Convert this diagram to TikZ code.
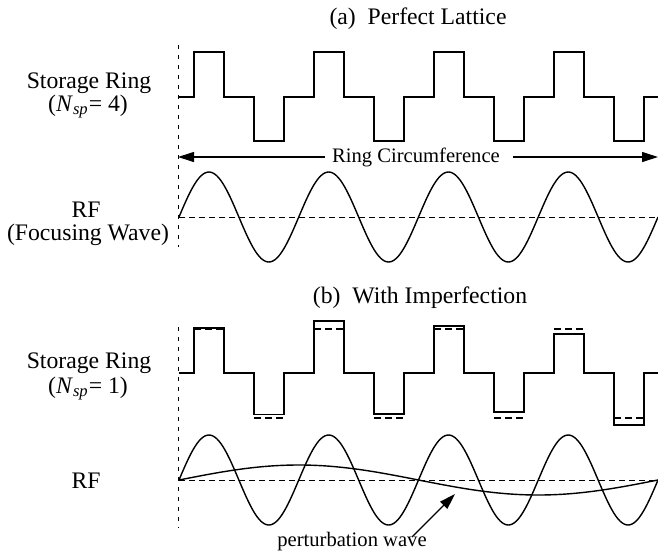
\documentclass[tikz,border=0pt]{standalone}
\usepackage{fontspec}
\setmainfont{Liberation Serif}
\usetikzlibrary{arrows.meta}
\begin{document}
\begin{tikzpicture}[x=0.5pt,y=-0.5pt,
  wave/.style={line width=0.75pt, line join=miter},
  sine/.style={line width=0.7pt},
  refline/.style={line width=0.5pt, dash pattern=on 3pt off 2pt},
  axisline/.style={line width=0.45pt, dash pattern=on 2pt off 3pt},
  nominal/.style={line width=0.75pt, dash pattern=on 3.5pt off 2pt},
  lbl/.style={font=\fontsize{11.85}{14}\selectfont, anchor=base, inner sep=0pt},
  small/.style={font=\fontsize{10.3}{12}\selectfont},
  pointer/.style={line width=0.55pt, -{Triangle[length=8pt,width=5pt]}}]
\useasboundingbox (0,0) rectangle (658,552);

% ---------- labels ----------
\node[lbl] (ta)   at (418,24)  {(a)\hspace{0.5em}Perfect Lattice};
\node[lbl] (sra)  at (89,88)   {Storage Ring};
\node[lbl] (nspa) at (88,111)  {(\textit{N}\textsubscript{\textit{sp}}= 4)};
\node[lbl] (rfa)  at (86,217)  {RF};
\node[lbl] (fwa)  at (88,240)  {(Focusing Wave)};
\node[lbl] (tb)   at (420,303) {(b)\hspace{0.5em}With Imperfection};
\node[lbl] (srb)  at (89,368)  {Storage Ring};
\node[lbl] (nspb) at (88,393)  {(\textit{N}\textsubscript{\textit{sp}}= 1)};
\node[lbl] (rfb)  at (86,488)  {RF};
\node[lbl,small] (pw) at (352,546) {perturbation wave};

% ---------- vertical reference lines ----------
\draw[axisline] (178,45) -- (178,247);
\draw[axisline] (178,327) -- (178,528);

% ---------- (a) storage ring ----------
\draw[wave] (179,97) -| (194,52) -| (224,97) -| (254,141) -| (284,97)
  -| (314,52) -| (344,97) -| (374,141) -| (404,97)
  -| (434,52) -| (464,97) -| (494,141) -| (524,97)
  -| (554,52) -| (584,97) -| (614,141) -| (644,97) -- (658,97);

% ---------- ring circumference arrow ----------
\node[small, inner sep=3.5pt] (rc) at (416,157) {Ring Circumference};
\coordinate (rcL) at (178,157);
\coordinate (rcR) at (658,157);
\draw[pointer] (rc.west) -- (rcL);
\draw[pointer] ([xshift=3pt]rc.east) -- (rcR);

% ---------- (a) RF ----------
\draw[refline] (179,217) -- (658,217);
\draw[sine] plot[domain=179:658,samples=241,smooth] (\x,{217-45*sin((\x-179)/119.75*360)});

% ---------- (b) storage ring ----------
\draw[wave] (179,373) -| (194,328) -| (224,373) -| (254,414.5) -| (284,373)
  -| (314,321) -| (344,373) -| (374,414) -| (404,373)
  -| (434,326) -| (464,373) -| (494,412) -| (524,373)
  -| (554,334) -| (584,373) -| (614,425) -| (644,373) -- (658,373);
\foreach \a in {194,314,434,554} \draw[nominal] (\a,329) -- ++(30,0);
\foreach \a in {254,374,494,614} \draw[nominal] (\a,418) -- ++(30,0);

% ---------- (b) RF ----------
\draw[refline] (179,480) -- (658,480);
\draw[sine] plot[domain=179:658,samples=241,smooth] (\x,{480-45*sin((\x-179)/119.75*360)});
\draw[sine] plot[domain=179:658,samples=121,smooth] (\x,{480-15*sin((\x-179)/479*360)});

% ---------- perturbation pointer ----------
\coordinate (pwtail) at (412,537);
\coordinate (pwtip) at (455,494);
\draw[pointer] (pwtail) -- (pwtip);
\end{tikzpicture}
\end{document}
